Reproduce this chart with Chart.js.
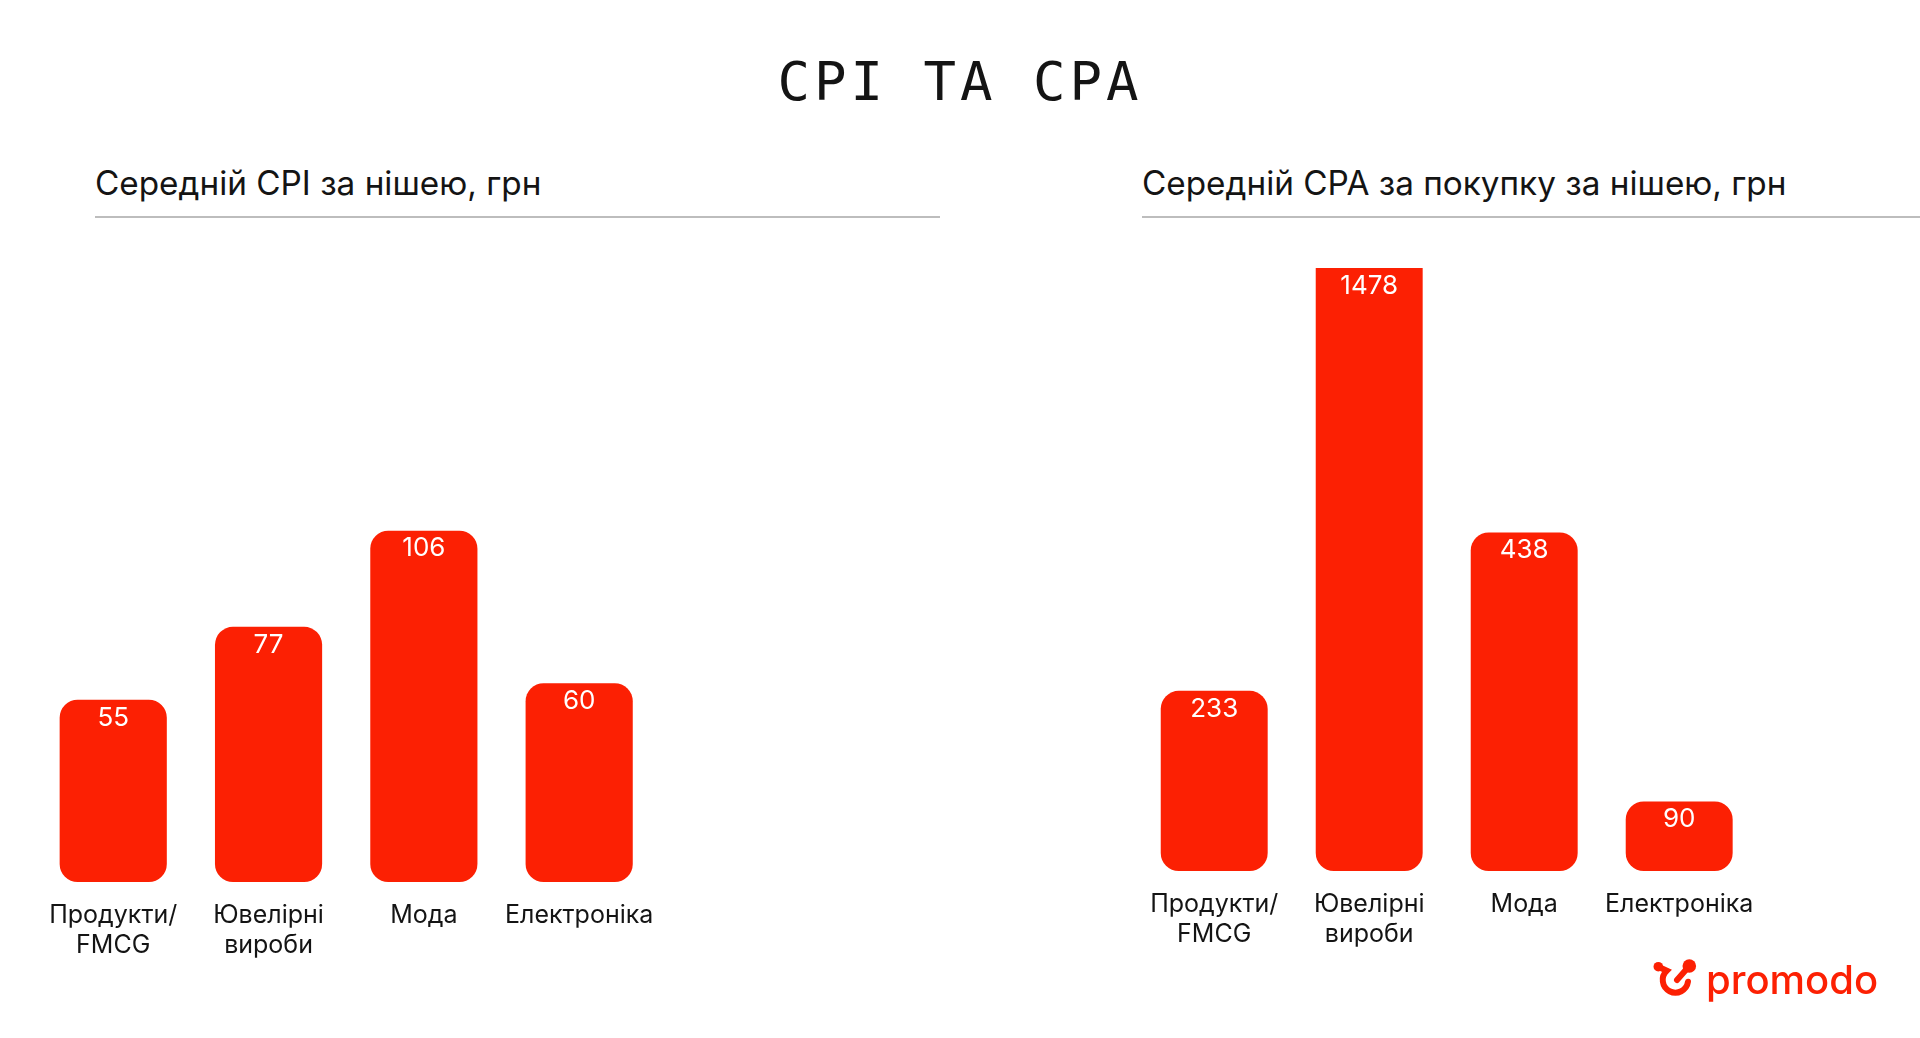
<!DOCTYPE html>
<html lang="uk">
<head>
<meta charset="utf-8">
<title>CPI ТА CPA</title>
<script src="https://cdn.jsdelivr.net/npm/chart.js@4.4.1/dist/chart.umd.min.js"></script>
<style>
  html, body { margin: 0; padding: 0; background: #fff; }
  body { width: 1920px; height: 1038px; position: relative; overflow: hidden; font-family: Inter, "Noto Sans", sans-serif; color: #141414; }
  #title { position: absolute; left: 0; width: 1920px; top: 55px; line-height: 1; text-align: center; font-family: "DejaVu Sans Mono", monospace; font-size: 54px; letter-spacing: 4px; }
  .subtitle { position: absolute; top: 167px; line-height: 1; font-size: 33.3px; white-space: nowrap; }
  .rule { position: absolute; top: 216px; height: 2px; background: #bdbdbd; }
  .box { position: absolute; }
  #logoMark { position: absolute; left: 1640px; top: 950px; }
  #logoText { position: absolute; left: 1706px; top: 960px; color: #fc2003; font-size: 40px; font-weight: 500; line-height: 1; }
</style>
</head>
<body>
<div id="title">CPI ТА CPA</div>

<div class="subtitle" style="left:95px">Середній CPI за нішею, грн</div>
<div class="rule" style="left:95px; width:845px"></div>
<div class="subtitle" style="left:1142px">Середній CPA за покупку за нішею, грн</div>
<div class="rule" style="left:1142px; width:778px"></div>

<div class="box" style="left:33px; top:418px; width:638px; height:560px"><canvas id="cpiChart"></canvas></div>
<div class="box" style="left:1134px; top:268px; width:637px; height:699px"><canvas id="cpaChart"></canvas></div>

<svg id="logoMark" width="60" height="52" viewBox="0 0 60 52">
  <g stroke="#fc2003" stroke-width="6" fill="none" stroke-linecap="round">
    <path d="M18.3 16.7 L26.7 20.7 A12.7 12.7 0 1 0 48 31.7"/>
    <path d="M49.3 16 L37 30"/>
  </g>
  <circle cx="18.3" cy="16.7" r="4.8" fill="#fc2003"/>
  <circle cx="49.3" cy="16" r="6.8" fill="#fc2003"/>
</svg>
<div id="logoText">promodo</div>

<script>
const categories = [['Продукти/', 'FMCG'], ['Ювелірні', 'вироби'], 'Мода', 'Електроніка'];
const cpiValues = [55, 77, 106, 60];
const cpaValues = [233, 1478, 438, 90];
// the reference draws the tallest CPA bar cut short, so the axis stops below it
const cpiAxisMax = 140;
const cpaAxisMax = 780;

const barRed = '#fc2003';

const valueLabels = {
    id: 'valueLabels',
    afterDatasetsDraw(chart) {
        const ctx = chart.ctx;
        const meta = chart.getDatasetMeta(0);
        const values = chart.data.datasets[0].data;
        ctx.save();
        ctx.fillStyle = '#fff';
        ctx.font = '400 26px Inter, sans-serif';
        ctx.textAlign = 'center';
        ctx.textBaseline = 'middle';
        meta.data.forEach((bar, i) => {
            const top = Math.max(bar.y, chart.chartArea.top);
            ctx.fillText(String(values[i]), bar.x, top + 18);
        });
        ctx.restore();
    }
};

function makeBarChart(canvasId, values, yMax) {
    const ctx = document.getElementById(canvasId).getContext('2d');
    return new Chart(ctx, {
        type: 'bar',
        data: {
            labels: categories,
            datasets: [{
                data: values,
                backgroundColor: barRed,
                borderWidth: 0,
                borderRadius: 18,
                borderSkipped: false,
                categoryPercentage: 1,
                barPercentage: 0.69
            }]
        },
        options: {
            responsive: true,
            maintainAspectRatio: false,
            animation: false,
            layout: { padding: 0 },
            plugins: {
                legend: { display: false },
                tooltip: { enabled: false }
            },
            scales: {
                x: {
                    grid: { display: false, drawTicks: false },
                    border: { display: false },
                    ticks: {
                        color: '#141414',
                        padding: 18,
                        font: { family: 'Inter', size: 25, lineHeight: 1.2 }
                    }
                },
                y: {
                    display: false,
                    min: 0,
                    max: yMax
                }
            }
        },
        plugins: [valueLabels]
    });
}

makeBarChart('cpiChart', cpiValues, cpiAxisMax);
makeBarChart('cpaChart', cpaValues, cpaAxisMax);
</script>
</body>
</html>
